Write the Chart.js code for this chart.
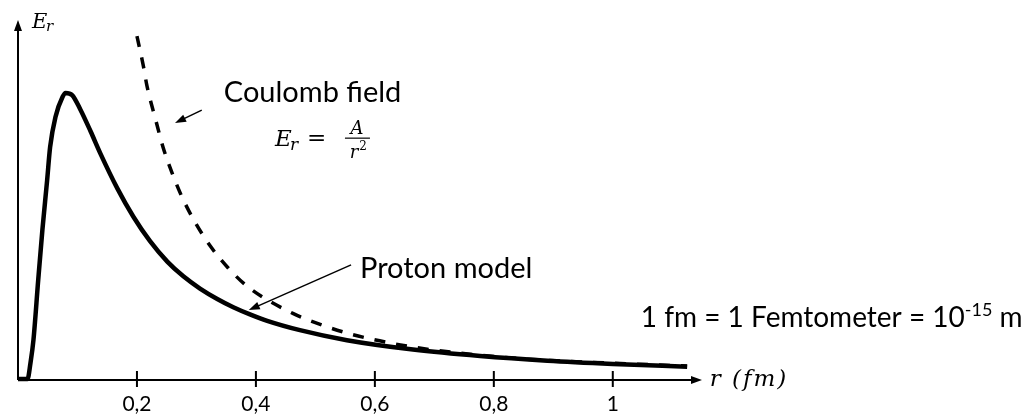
<!DOCTYPE html>
<html>
<head>
<meta charset="utf-8">
<script src="https://cdn.jsdelivr.net/npm/chart.js@4.4.1/dist/chart.umd.min.js"></script>
<style>
  html, body { margin: 0; padding: 0; background: #fff; }
  #wrap { width: 1026px; height: 414px; }
</style>
</head>
<body>
<div id="wrap"><canvas id="fieldChart"></canvas></div>
<script>
// radius r in fm, field E_r in arbitrary units
const protonR = [0, 0.016, 0.021, 0.026, 0.034, 0.041, 0.049, 0.054, 0.063, 0.075, 0.080, 0.091, 0.105, 0.122, 0.138,
                 0.167, 0.194, 0.222, 0.251, 0.278, 0.306, 0.335, 0.362, 0.390, 0.419, 0.474, 0.553, 0.664, 0.777, 0.890, 1.000, 1.125];
const protonE = [0, 0, 0.45, 1.09, 2.76, 4.15, 5.54, 6.46, 7.30, 7.86, 7.97, 7.91, 7.50, 6.90, 6.30,
                 5.31, 4.52, 3.84, 3.27, 2.86, 2.52, 2.23, 2.00, 1.80, 1.62, 1.36, 1.08, 0.82, 0.64, 0.51, 0.42, 0.34];

const coulombR = [0.200, 0.211, 0.217, 0.231, 0.244, 0.259, 0.276, 0.298, 0.323, 0.353, 0.387, 0.463, 0.508, 0.553,
                  0.597, 0.643, 0.688, 0.732, 0.850, 1.000, 1.125];
const coulombE = [9.55, 8.70, 8.15, 7.25, 6.45, 5.74, 5.06, 4.36, 3.71, 3.10, 2.56, 1.82, 1.52, 1.28,
                  1.10, 0.95, 0.83, 0.74, 0.56, 0.44, 0.36];

const tickValues = [0.2, 0.4, 0.6, 0.8, 1];
const tickLabels = ['0,2', '0,4', '0,6', '0,8', '1'];

const textFont = 'Lato, "Open Sans", sans-serif';
const mathFont = '"DejaVu Serif", "Liberation Serif", serif';

function toPoints(xs, ys) {
    return xs.map((x, i) => ({ x: x, y: ys[i] }));
}

function arrow(ctx, x1, y1, x2, y2) {
    const a = Math.atan2(y2 - y1, x2 - x1);
    const c = Math.cos(a), s = Math.sin(a);
    ctx.beginPath();
    ctx.moveTo(x1, y1);
    ctx.lineTo(x2 - 6 * c, y2 - 6 * s);
    ctx.stroke();
    ctx.beginPath();
    ctx.moveTo(x2, y2);
    ctx.lineTo(x2 - 11 * c + 4 * s, y2 - 11 * s - 4 * c);
    ctx.lineTo(x2 - 11 * c - 4 * s, y2 - 11 * s + 4 * c);
    ctx.closePath();
    ctx.fill();
}

// axes with arrow heads, ticks crossing the r axis
const arrowAxes = {
    id: 'arrowAxes',
    beforeDatasetsDraw(chart) {
        const ctx = chart.ctx, sx = chart.scales.x, sy = chart.scales.y;
        const x0 = sx.getPixelForValue(0), y0 = sy.getPixelForValue(0);
        const xEnd = sx.getPixelForValue(sx.max), yTop = sy.getPixelForValue(sy.max);
        ctx.save();
        ctx.strokeStyle = '#000';
        ctx.fillStyle = '#000';
        ctx.lineWidth = 2;
        ctx.beginPath();
        ctx.moveTo(x0, y0 + 1);
        ctx.lineTo(xEnd - 8, y0 + 1);
        ctx.moveTo(x0, y0 + 1);
        ctx.lineTo(x0, yTop + 8);
        ctx.stroke();
        ctx.beginPath();
        ctx.moveTo(xEnd, y0 + 1);
        ctx.lineTo(xEnd - 11, y0 - 3);
        ctx.lineTo(xEnd - 11, y0 + 5);
        ctx.closePath();
        ctx.fill();
        ctx.beginPath();
        ctx.moveTo(x0, yTop);
        ctx.lineTo(x0 - 4, yTop + 11);
        ctx.lineTo(x0 + 4, yTop + 11);
        ctx.closePath();
        ctx.fill();

        ctx.beginPath();
        tickValues.forEach(v => {
            const px = sx.getPixelForValue(v);
            ctx.moveTo(px, y0 - 8);
            ctx.lineTo(px, y0 + 8);
        });
        ctx.stroke();

        ctx.font = '21px ' + textFont;
        ctx.textAlign = 'center';
        ctx.textBaseline = 'alphabetic';
        tickValues.forEach((v, i) => {
            ctx.fillText(tickLabels[i], sx.getPixelForValue(v), y0 + 32);
        });
        ctx.restore();
    },
    afterDraw(chart) {
        const ctx = chart.ctx, sx = chart.scales.x, sy = chart.scales.y;
        const P = (r, e) => [sx.getPixelForValue(r), sy.getPixelForValue(e)];
        ctx.save();
        ctx.fillStyle = '#000';
        ctx.strokeStyle = '#000';
        ctx.textAlign = 'left';
        ctx.textBaseline = 'alphabetic';

        // E_r axis label
        let [ex, ey] = P(0.0235, 9.78);
        ctx.font = 'italic 21px ' + mathFont;
        ctx.fillText('E', ex, ey);
        ctx.font = 'italic 15px ' + mathFont;
        ctx.fillText('r', ex + 14, ey + 3);

        // r (fm) axis label
        let [rx, ry] = P(1.163, 0);
        ctx.font = 'italic 23px ' + mathFont;
        ctx.letterSpacing = '2px';
        ctx.fillText('r (fm)', rx, ry + 7);
        ctx.letterSpacing = '0px';

        // Coulomb field label + formula
        let [cx, cy] = P(0.346, 7.72);
        ctx.font = '29px ' + textFont;
        ctx.fillText('Coulomb field', cx, cy);
        let [fx, fy] = P(0.432, 6.50);
        ctx.font = 'italic 23px ' + mathFont;
        ctx.fillText('E', fx, fy);
        ctx.font = 'italic 17px ' + mathFont;
        ctx.fillText('r', fx + 15, fy + 4);
        ctx.font = '23px ' + mathFont;
        ctx.fillText('=', fx + 32, fy - 1);
        ctx.font = 'italic 18px ' + mathFont;
        ctx.textAlign = 'center';
        ctx.fillText('A', fx + 82, fy - 12);
        ctx.fillText('r', fx + 79, fy + 12);
        ctx.font = '12px ' + mathFont;
        ctx.fillText('2', fx + 88, fy + 4);
        ctx.lineWidth = 1.2;
        ctx.beginPath();
        ctx.moveTo(fx + 70, fy - 7.5);
        ctx.lineTo(fx + 95, fy - 7.5);
        ctx.stroke();
        ctx.textAlign = 'left';

        ctx.lineWidth = 1.5;
        let [a1x, a1y] = P(0.309, 7.49);
        let [a2x, a2y] = P(0.264, 7.13);
        arrow(ctx, a1x, a1y, a2x, a2y);

        // Proton model label
        let [px, py] = P(0.575, 2.81);
        ctx.font = '29px ' + textFont;
        ctx.fillText('Proton model', px, py);
        let [b1x, b1y] = P(0.560, 3.18);
        let [b2x, b2y] = P(0.388, 1.92);
        arrow(ctx, b1x, b1y, b2x, b2y);

        // unit note, right aligned at the picture edge
        let [ux, uy] = P(1.689, 1.45);
        ctx.font = '28px ' + textFont;
        const head = '1 fm = 1 Femtometer = 10';
        const tail = ' m';
        const wHead = ctx.measureText(head).width;
        const wTail = ctx.measureText(tail).width;
        ctx.font = '18px ' + textFont;
        const wExp = ctx.measureText('-15').width;
        const start = ux - wHead - wExp - wTail;
        ctx.font = '28px ' + textFont;
        ctx.fillText(head, start, uy);
        ctx.font = '18px ' + textFont;
        ctx.fillText('-15', start + wHead, uy - 11);
        ctx.font = '28px ' + textFont;
        ctx.fillText(tail, start + wHead + wExp, uy);
        ctx.restore();
    }
};

new Chart(document.getElementById('fieldChart'), {
    type: 'line',
    data: {
        datasets: [{
            label: 'Proton model',
            data: toPoints(protonR, protonE),
            borderColor: '#000',
            borderWidth: 4.5,
            pointRadius: 0,
            cubicInterpolationMode: 'monotone',
            clip: false
        }, {
            label: 'Coulomb field',
            data: toPoints(coulombR, coulombE),
            borderColor: '#000',
            borderWidth: 3.5,
            borderDash: [11, 11],
            pointRadius: 0,
            cubicInterpolationMode: 'monotone',
            clip: false
        }]
    },
    options: {
        responsive: true,
        maintainAspectRatio: false,
        animation: false,
        layout: {
            padding: { left: 18, right: 324, top: 20, bottom: 35 }
        },
        plugins: {
            legend: { display: false },
            tooltip: { enabled: false }
        },
        scales: {
            x: { type: 'linear', min: 0, max: 1.15, display: false },
            y: { min: 0, max: 10, display: false }
        }
    },
    plugins: [arrowAxes]
});
</script>
</body>
</html>
